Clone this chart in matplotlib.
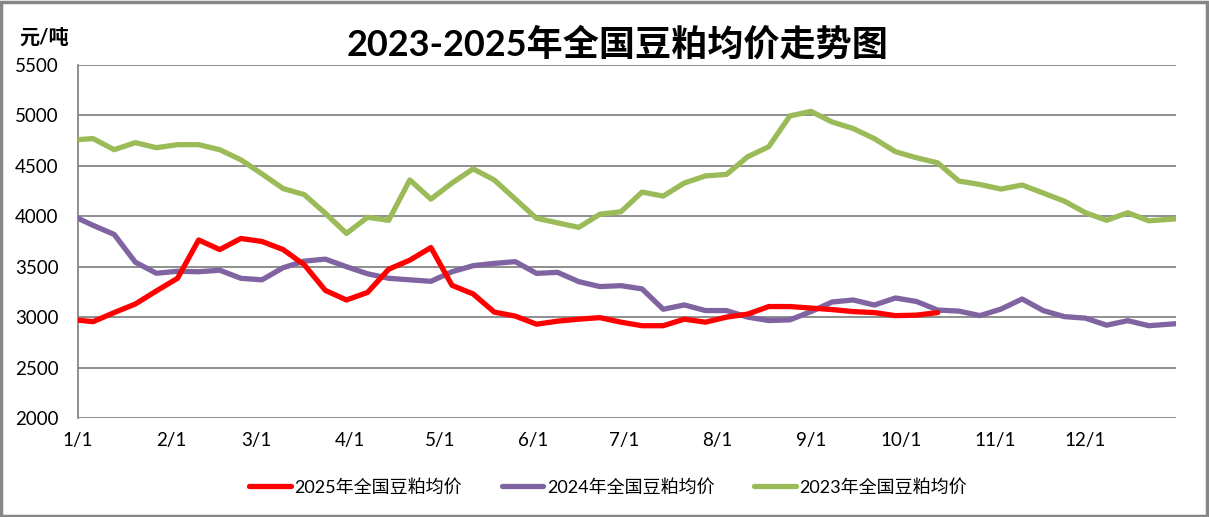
import matplotlib
matplotlib.use("Agg")
import matplotlib.pyplot as plt
from matplotlib.patches import Rectangle

plt.rcParams['font.family'] = ['Lato', 'Noto Sans CJK SC', 'DejaVu Sans']

# day of year for each weekly point
days = [0] + [5 + 7 * k for k in range(51)] + [364]

price_2025 = [2970, 2955, 3045, 3130, 3260, 3385, 3765, 3670, 3780, 3750,
              3670, 3520, 3265, 3170, 3245, 3475, 3565, 3690, 3315, 3230,
              3050, 3010, 2930, 2960, 2980, 2995, 2950, 2915, 2915, 2980,
              2950, 3000, 3030, 3105, 3105, 3090, 3075, 3055, 3045, 3015,
              3020, 3045]

price_2024 = [3980, 3910, 3820, 3545, 3435, 3455, 3450, 3465, 3385, 3370,
              3490, 3555, 3575, 3500, 3430, 3385, 3370, 3355, 3450, 3510,
              3533, 3550, 3434, 3444, 3352, 3303, 3312, 3280, 3078, 3121,
              3065, 3065, 3000, 2966, 2973, 3055, 3150, 3170, 3120, 3190,
              3155, 3070, 3060, 3015, 3080, 3180, 3065, 3005, 2990, 2920,
              2965, 2915, 2935]

price_2023 = [4760, 4770, 4660, 4730, 4680, 4710, 4710, 4660, 4560, 4420,
              4275, 4215, 4030, 3830, 3990, 3960, 4360, 4170, 4330, 4470,
              4360, 4170, 3980, 3935, 3890, 4020, 4045, 4240, 4200, 4330,
              4400, 4415, 4590, 4690, 4995, 5040, 4935, 4870, 4770, 4640,
              4580, 4530, 4350, 4315, 4270, 4310, 4230, 4150, 4035, 3960,
              4035, 3955, 3975]

tick_days = [0, 31, 59, 90, 120, 151, 181, 212, 243, 273, 304, 334]
tick_labels = ['1/1', '2/1', '3/1', '4/1', '5/1', '6/1', '7/1', '8/1',
               '9/1', '10/1', '11/1', '12/1']

fig = plt.figure(figsize=(12.09, 5.17), dpi=100)
ax = fig.add_axes([0.0645, 0.1915, 0.9082, 0.6828])

ax.plot(days[:len(price_2025)], price_2025, color='#FF0000', lw=3.8,
        label='2025年全国豆粕均价', solid_capstyle='round', zorder=5)
ax.plot(days, price_2024, color='#8064A2', lw=3.8,
        label='2024年全国豆粕均价', solid_capstyle='round', zorder=4)
ax.plot(days, price_2023, color='#9BBB59', lw=3.8,
        label='2023年全国豆粕均价', solid_capstyle='round', zorder=3)

ax.set_xlim(0, 364)
ax.set_ylim(2000, 5500)
ax.set_yticks(range(2000, 5501, 500))
ax.set_xticks(tick_days)
ax.set_xticklabels(tick_labels)
ax.tick_params(axis='both', length=0, labelsize=13.5)
ax.tick_params(axis='x', pad=10)
ax.tick_params(axis='y', pad=14)
ax.grid(axis='y', color='#868686', lw=1.3)
ax.set_axisbelow(True)
for s in ['top', 'right', 'bottom']:
    ax.spines[s].set_visible(False)
ax.spines['left'].set_color('#868686')
ax.spines['left'].set_linewidth(1.3)

fig.text(0.511, 0.915, '2023-2025年全国豆粕均价走势图', ha='center', va='center',
         fontsize=26, fontweight='bold')
fig.text(0.016, 0.928, '元/吨', ha='left', va='center', fontsize=14.5,
         fontweight='bold')

leg = fig.legend(loc='center', bbox_to_anchor=(0.503, 0.058), ncol=3,
                 frameon=False, fontsize=13, handlelength=2.3,
                 handletextpad=0.2, columnspacing=2.2)

fig.patches.append(Rectangle((0.001, 0.002), 0.997, 0.995,
                             transform=fig.transFigure, fill=False,
                             edgecolor='#868686', lw=2.5))

fig.savefig('out.png', dpi=100)
